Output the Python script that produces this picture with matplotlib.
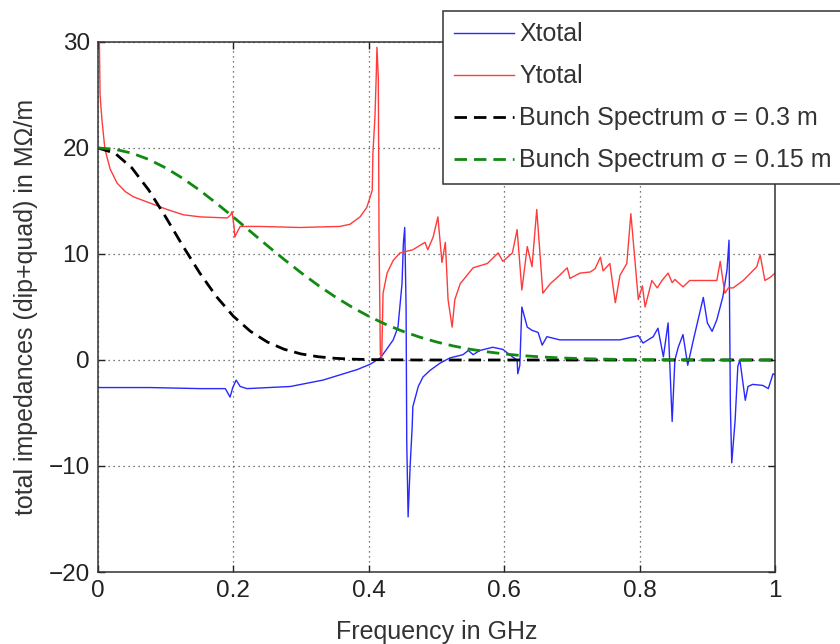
# ==========================================
# IMPEDANCIAS TRANSVERSAIS x ESPECTRO DO BUNCH
# ==========================================

import matplotlib
matplotlib.use("Agg")
import matplotlib.pyplot as plt


# ==========================================
# DADOS
# ==========================================

# Ytotal (vermelho)
freq_y = [
    0.000, 0.003, 0.006, 0.010, 0.013, 0.018, 0.028, 0.040, 0.052, 0.077,
    0.102, 0.126, 0.151, 0.191, 0.196, 0.198, 0.201, 0.202, 0.205, 0.210,
    0.239, 0.298, 0.357, 0.372, 0.387, 0.397, 0.405, 0.406, 0.409, 0.411,
    0.412, 0.414, 0.415, 0.417, 0.419, 0.421, 0.427, 0.436, 0.446, 0.465,
    0.483, 0.487, 0.495, 0.502, 0.508, 0.513, 0.517, 0.523, 0.527, 0.535,
    0.554, 0.575, 0.591, 0.598, 0.612, 0.619, 0.626, 0.634, 0.641, 0.648,
    0.657, 0.668, 0.682, 0.693, 0.697, 0.712, 0.727, 0.734, 0.742, 0.746,
    0.756, 0.764, 0.771, 0.781, 0.787, 0.793, 0.798, 0.804, 0.808, 0.818,
    0.826, 0.833, 0.842, 0.848, 0.852, 0.864, 0.874, 0.914, 0.919, 0.923,
    0.926, 0.931, 0.938, 0.953, 0.973, 0.978, 0.985, 0.993, 1.000,
]
y_total = [
    40.0, 25.0, 22.5, 20.0, 19.2, 18.0, 16.7, 15.9, 15.4, 14.8,
    14.2, 13.7, 13.5, 13.4, 13.7, 14.0, 12.5, 11.6, 12.0, 12.6,
    12.6, 12.5, 12.6, 12.8, 13.5, 14.4, 16.0, 19.5, 22.9, 27.0,
    29.5, 26.6, 12.0, 0.5, 0.2, 6.3, 8.2, 9.4, 10.1, 10.4,
    11.1, 10.4, 11.6, 13.5, 9.2, 11.1, 5.7, 3.1, 5.7, 7.2,
    8.7, 9.1, 10.1, 9.3, 10.1, 12.3, 6.6, 10.7, 8.8, 14.2,
    6.3, 7.2, 8.0, 8.7, 7.7, 8.2, 8.3, 8.6, 9.7, 8.4,
    9.1, 5.4, 8.0, 9.1, 13.8, 9.4, 5.7, 7.0, 5.0, 7.5,
    6.8, 7.5, 8.2, 7.3, 7.6, 6.9, 7.5, 7.5, 9.3, 7.5,
    6.3, 6.8, 6.8, 7.5, 8.8, 9.9, 7.5, 7.8, 8.2,
]

# Xtotal (azul)
freq_x = [
    0.000, 0.077, 0.151, 0.188, 0.195, 0.199, 0.204, 0.210, 0.220, 0.284,
    0.332, 0.383, 0.402, 0.417, 0.425, 0.436, 0.443, 0.449, 0.451, 0.453,
    0.455, 0.456, 0.458, 0.461, 0.464, 0.465, 0.473, 0.480, 0.490, 0.505,
    0.520, 0.539, 0.547, 0.554, 0.564, 0.583, 0.598, 0.612, 0.619, 0.620,
    0.623, 0.626, 0.634, 0.641, 0.650, 0.656, 0.663, 0.682, 0.722, 0.771,
    0.798, 0.805, 0.820, 0.827, 0.835, 0.842, 0.848, 0.852, 0.857, 0.864,
    0.871, 0.879, 0.894, 0.900, 0.907, 0.914, 0.923, 0.929, 0.932, 0.934,
    0.936, 0.941, 0.945, 0.948, 0.956, 0.960, 0.967, 0.982, 0.990, 0.997,
    1.000,
]
x_total = [
    -2.6, -2.6, -2.7, -2.7, -3.5, -2.6, -1.9, -2.5, -2.7, -2.5,
    -1.9, -0.9, -0.4, 0.2, 0.9, 1.9, 3.1, 7.2, 11.0, 12.5,
    5.0, -7.8, -14.8, -10.0, -6.3, -4.4, -2.5, -1.6, -1.0, -0.3,
    0.2, 0.5, 0.9, 0.5, 0.9, 1.2, 1.0, 0.3, 0.0, -1.3,
    -0.5, 5.0, 3.1, 2.8, 2.6, 1.4, 2.2, 1.9, 1.9, 1.9,
    2.3, 1.6, 2.2, 3.0, 0.3, 3.5, -5.8, 0.0, 1.2, 2.4,
    -0.5, 1.8, 5.9, 3.5, 2.7, 3.8, 6.0, 8.5, 11.3, -4.4,
    -9.7, -5.7, -0.6, 0.0, -3.8, -2.5, -2.3, -2.4, -2.7, -1.3,
    -1.4,
]

# espectros do bunch
freq_bunch = [
    0.000, 0.025, 0.050, 0.075, 0.100, 0.125, 0.150, 0.175, 0.200, 0.225,
    0.250, 0.275, 0.300, 0.325, 0.350, 0.375, 0.400, 0.425, 0.450, 0.475,
    0.500, 0.525, 0.550, 0.575, 0.600, 0.625, 0.650, 0.675, 0.700, 0.725,
    0.750, 0.775, 0.800, 0.825, 0.850, 0.875, 0.900, 0.925, 0.950, 0.975,
    1.000,
]
bunch_03 = [
    20.00, 19.51, 18.12, 16.02, 13.48, 10.79, 8.23, 5.97, 4.12, 2.71,
    1.70, 1.01, 0.57, 0.31, 0.16, 0.08, 0.04, 0.02, 0.01, 0.00,
    0.00, 0.00, 0.00, 0.00, 0.00, 0.00, 0.00, 0.00, 0.00, 0.00,
    0.00, 0.00, 0.00, 0.00, 0.00, 0.00, 0.00, 0.00, 0.00, 0.00,
    0.00,
]
bunch_015 = [
    20.00, 19.88, 19.51, 18.92, 18.12, 17.14, 16.02, 14.78, 13.48, 12.13,
    10.79, 9.48, 8.23, 7.05, 5.97, 4.99, 4.12, 3.36, 2.71, 2.16,
    1.70, 1.32, 1.01, 0.77, 0.57, 0.42, 0.31, 0.22, 0.16, 0.11,
    0.08, 0.05, 0.04, 0.02, 0.02, 0.01, 0.01, 0.00, 0.00, 0.00,
    0.00,
]

x_ticks = [0, 0.2, 0.4, 0.6, 0.8, 1]
y_ticks = [-20, -10, 0, 10, 20, 30]


# ==========================================
# FIGURA
# ==========================================

plt.rcParams["font.family"] = ["Liberation Sans", "DejaVu Sans"]

fig = plt.figure(figsize=(8.4, 6.44), dpi=100)

ax = fig.add_axes([0.1167, 0.1118, 0.8060, 0.8230])

ax.plot(freq_x, x_total, color="#2828ff", lw=1.0, label="Xtotal")
ax.plot(freq_y, y_total, color="#ff3b3b", lw=1.0, label="Ytotal")

ax.plot(
    freq_bunch, bunch_03,
    color="black", lw=2.0, linestyle=(0, (4.5, 2.5)),
    label="Bunch Spectrum σ = 0.3 m"
)

ax.plot(
    freq_bunch, bunch_015,
    color="#108a10", lw=2.0, linestyle=(0, (4.5, 2.5)),
    label="Bunch Spectrum σ = 0.15 m"
)

ax.set_xlim(0, 1)
ax.set_ylim(-20, 30)
ax.set_xticks(x_ticks)
ax.set_xticklabels(["0", "0.2", "0.4", "0.6", "0.8", "1"])
ax.set_yticks(y_ticks)
ax.set_yticklabels(["\u221220", "\u221210", "0", "10", "20", "30"])

# grade pontilhada estilo matlab
ax.grid(True, color="0.3", linestyle=(0, (1, 3)), lw=0.9)

ax.tick_params(
    direction="in", length=5, width=1,
    top=True, right=True,
    labelsize=17.5, colors="#222222", pad=6
)

for spine in ax.spines.values():
    spine.set_color("#333333")
    spine.set_linewidth(1.1)

ax.set_xlabel("Frequency in GHz", fontsize=18, color="#333333")
ax.set_ylabel("total impedances (dip+quad) in MΩ/m", fontsize=18, color="#333333")
ax.xaxis.set_label_coords(0.5, -0.09)
ax.yaxis.set_label_coords(-0.088, 0.5)


# ==========================================
# LEGENDA
# ==========================================

leg = ax.legend(
    loc="upper left",
    bbox_to_anchor=(443 / 840, 1 - 11 / 644),
    bbox_transform=fig.transFigure,
    fontsize=18,
    handlelength=2.4,
    handletextpad=0.2,
    labelspacing=0.72,
    borderpad=0.45,
    borderaxespad=0,
    fancybox=False,
    framealpha=1,
)

leg.get_frame().set_edgecolor("#333333")
leg.get_frame().set_linewidth(1.1)

for txt in leg.get_texts():
    txt.set_color("#333333")

fig.savefig("out.png", dpi=100)
